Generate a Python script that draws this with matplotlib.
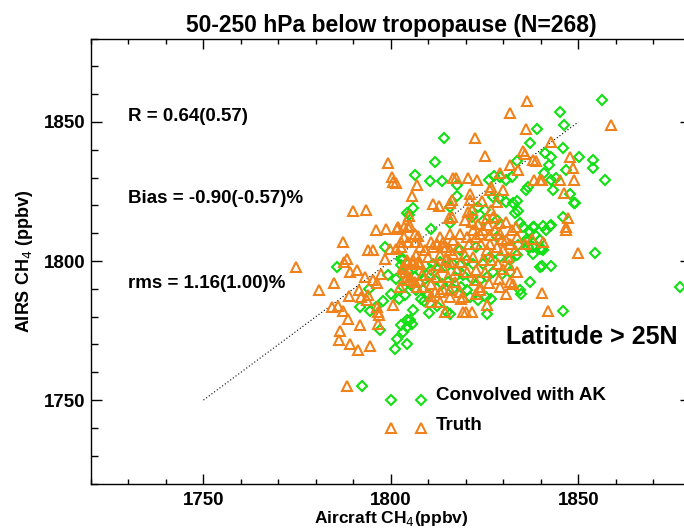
import matplotlib
matplotlib.use("Agg")
import matplotlib.pyplot as plt
from matplotlib.ticker import MultipleLocator

plt.rcParams['font.family'] = ['Liberation Sans', 'DejaVu Sans']

# "Convolved with AK" (green diamonds)
conv_x = [1792.4, 1785.7, 1798.4, 1802.6, 1799.3, 1801.3, 1794.2, 1791.7, 1794.4, 1796.0,
          1798.0, 1799.9, 1802.2, 1803.7, 1797.2, 1802.8, 1804.2, 1801.5, 1801.1, 1804.2,
          1804.2,
          1814.1, 1839.0, 1837.2, 1811.7, 1806.4, 1810.4, 1813.5, 1817.7, 1826.2, 1827.5,
          1829.1, 1830.8, 1832.2, 1833.5, 1836.0, 1836.6, 1827.3, 1828.9, 1830.7, 1832.6,
          1833.5, 1834.0, 1833.1, 1817.7, 1815.7, 1823.3, 1825.1, 1806.0, 1804.9, 1810.8,
          1821.5, 1824.6, 1828.2, 1834.4, 1835.1, 1838.0, 1838.4, 1839.7, 1836.2, 1834.0,
          1836.6, 1838.0, 1840.6, 1833.5, 1831.7, 1829.1, 1826.4, 1824.6, 1822.0, 1820.2,
          1818.4, 1816.6, 1814.8, 1813.1, 1811.3, 1810.8, 1809.1, 1807.7, 1806.4, 1804.6,
          1803.3, 1802.8, 1803.3, 1805.1, 1806.8, 1808.6, 1810.0, 1811.7, 1813.5, 1815.3,
          1817.1, 1819.3, 1821.5, 1823.7, 1825.5, 1827.3, 1829.5, 1831.7, 1816.6, 1818.8,
          1820.2, 1821.1, 1823.3, 1825.3, 1826.8, 1834.4, 1837.1, 1839.7, 1807.9, 1808.8,
          1810.2, 1812.2, 1815.0, 1815.7, 1825.5, 1806.0, 1805.1, 1804.4, 1803.3, 1805.5,
          1834.6, 1818.4, 1822.8, 1828.2, 1815.7,
          1856.2, 1845.1, 1846.1, 1845.9, 1850.2, 1853.9, 1853.9, 1841.1, 1842.6, 1842.2,
          1846.7, 1840.8, 1842.6, 1844.0, 1857.1, 1843.3, 1847.9, 1849.1, 1845.8, 1840.6,
          1842.4, 1841.3, 1840.4, 1854.4, 1840.2, 1842.6, 1845.8, 1877.1, 1848.8, 1842.6,
          1838.1, 1837.2, 1836.3, 1837.9, 1839.9]
conv_y = [1755.0, 1797.7, 1804.9, 1800.6, 1794.9, 1793.4, 1790.1, 1783.5, 1782.1, 1783.5,
          1785.7, 1788.3, 1786.2, 1787.7, 1775.1, 1776.9, 1778.7, 1771.8, 1768.2, 1770.3,
          1817.1,
          1844.4, 1847.3, 1842.5, 1835.7, 1830.9, 1828.9, 1828.9, 1827.3, 1829.3, 1830.5,
          1830.1, 1829.1, 1830.1, 1836.0, 1825.7, 1826.5, 1822.9, 1822.5, 1821.3, 1820.9,
          1821.7, 1818.1, 1817.1, 1823.3, 1819.3, 1819.5, 1818.3, 1818.9, 1816.5, 1811.7,
          1815.7, 1814.5, 1814.7, 1813.8, 1812.3, 1812.3, 1809.3, 1807.5, 1808.1, 1805.7,
          1805.1, 1802.7, 1803.9, 1802.1, 1800.3, 1801.5, 1801.5, 1799.1, 1799.1, 1800.3,
          1798.5, 1799.1, 1797.9, 1799.7, 1799.1, 1796.7, 1793.7, 1796.1, 1794.3, 1796.1,
          1800.9, 1798.5, 1790.7, 1791.9, 1789.5, 1789.5, 1788.3, 1793.1, 1791.9, 1792.5,
          1794.3, 1794.9, 1793.7, 1793.1, 1794.3, 1796.1, 1795.5, 1796.1, 1789.8, 1790.7,
          1789.5, 1787.1, 1785.9, 1786.9, 1786.5, 1789.5, 1792.5, 1797.9, 1786.2, 1785.7,
          1781.4, 1783.8, 1781.7, 1780.9, 1781.1, 1782.3, 1778.7, 1776.3, 1774.5, 1777.5,
          1788.1, 1803.9, 1805.1, 1808.7, 1813.5,
          1857.9, 1853.7, 1848.9, 1840.5, 1837.5, 1836.5, 1833.3, 1838.9, 1837.5, 1834.5,
          1832.9, 1831.5, 1829.3, 1829.7, 1829.3, 1825.7, 1824.1, 1820.9, 1815.7, 1812.6,
          1812.6, 1811.1, 1804.2, 1803.0, 1798.2, 1798.2, 1782.1, 1790.5, 1820.9, 1812.9,
          1812.3, 1810.5, 1806.9, 1805.1, 1804.5]

# "Truth" (orange triangles)
truth_x = [1799.3, 1800.2, 1800.6, 1801.3, 1789.8, 1793.3, 1796.0, 1798.7, 1802.0, 1803.5,
           1787.1, 1793.8, 1795.3, 1799.7, 1801.3, 1788.4, 1787.5, 1798.4, 1789.1, 1791.0,
           1793.1, 1795.3, 1796.4, 1797.3, 1774.6, 1780.8, 1784.8, 1788.9, 1791.6, 1791.9,
           1794.0, 1793.5, 1784.2, 1786.0, 1787.1, 1796.4, 1796.6, 1796.9, 1800.6, 1788.6,
           1796.6, 1791.7, 1786.4, 1786.2, 1789.2, 1791.3, 1794.4, 1788.4,
           1801.5, 1804.6, 1806.4, 1806.4, 1815.7, 1810.8, 1812.2, 1813.9, 1815.7, 1804.2,
           1806.0, 1807.3, 1803.3, 1804.2, 1805.1, 1806.9, 1810.8, 1815.7, 1819.3,
           1836.4, 1831.7, 1836.0, 1822.4, 1825.1, 1835.1, 1835.7, 1831.7, 1834.0, 1838.0,
           1838.7, 1816.6, 1817.3, 1820.6, 1823.0, 1829.1, 1826.8, 1826.4, 1829.8, 1838.1,
           1839.7, 1807.0, 1805.5, 1816.2, 1821.2, 1821.1, 1811.1, 1812.9, 1824.2, 1828.2,
           1821.5, 1820.6, 1826.6, 1816.4, 1815.6, 1804.9, 1805.2, 1803.5, 1807.3,
           1819.7, 1821.5, 1823.3, 1825.5, 1827.3, 1829.1, 1830.8, 1833.3, 1824.6, 1822.7,
           1826.4, 1829.1, 1830.7, 1831.7, 1833.7, 1820.9, 1823.9, 1818.4, 1816.6, 1814.8,
           1813.1, 1811.3, 1810.0, 1813.2, 1814.8, 1816.6, 1819.7, 1822.0, 1825.5, 1828.2,
           1830.0, 1831.3, 1812.2, 1814.0, 1815.7, 1817.5, 1807.7, 1806.0, 1804.2, 1803.7,
           1805.1, 1806.4, 1808.6, 1810.8, 1812.2, 1815.3, 1820.2, 1822.8, 1824.6, 1828.6,
           1831.6, 1833.5, 1835.7, 1837.5, 1822.4, 1823.7, 1826.2, 1828.9, 1831.7, 1811.7,
           1814.0, 1818.4, 1819.3, 1822.8, 1810.8, 1813.2, 1818.8, 1820.0, 1821.5, 1814.4,
           1825.7,
           1802.8, 1804.6, 1807.7, 1809.1, 1806.8, 1814.0, 1815.7, 1818.0, 1820.2, 1822.0,
           1823.7, 1826.0, 1827.7, 1829.5, 1832.2, 1833.1, 1826.4, 1825.1, 1826.8, 1830.0,
           1818.8, 1817.1, 1810.4, 1808.2, 1813.1, 1815.7, 1823.7, 1829.1, 1830.8, 1832.6,
           1802.8, 1803.3, 1802.4, 1803.7,
           1858.8, 1842.8, 1847.7, 1848.6, 1840.2, 1845.2, 1848.8, 1846.1, 1847.3, 1846.8,
           1846.8, 1840.6, 1850.0, 1840.4, 1842.0]
truth_y = [1835.3, 1830.3, 1828.5, 1828.1, 1818.1, 1818.5, 1811.1, 1811.4, 1812.3, 1808.7,
           1806.9, 1803.9, 1803.9, 1804.2, 1804.2, 1800.9, 1799.7, 1800.6, 1796.1, 1796.9,
           1794.3, 1793.1, 1792.2, 1795.5, 1797.7, 1789.5, 1792.2, 1787.4, 1789.5, 1787.1,
           1787.7, 1785.9, 1783.3, 1783.8, 1782.1, 1783.5, 1781.7, 1780.5, 1784.1, 1779.0,
           1777.3, 1776.9, 1774.9, 1771.5, 1770.3, 1768.0, 1769.4, 1755.0,
           1811.7, 1812.3, 1806.9, 1809.7, 1820.8, 1806.9, 1806.3, 1805.1, 1803.9, 1800.3,
           1800.3, 1799.7, 1797.3, 1794.3, 1793.1, 1790.7, 1787.5, 1789.5, 1781.7,
           1857.6, 1853.3, 1847.3, 1844.4, 1837.7, 1839.7, 1838.5, 1834.5, 1832.9, 1836.5,
           1836.0, 1830.0, 1830.0, 1829.7, 1829.1, 1831.7, 1826.5, 1825.7, 1825.5, 1829.3,
           1829.1, 1827.3, 1823.3, 1821.9, 1824.1, 1822.1, 1820.5, 1819.7, 1821.7, 1821.3,
           1818.5, 1817.7, 1818.3, 1815.9, 1815.3, 1816.1, 1812.6, 1812.1, 1809.0,
           1814.7, 1814.1, 1813.3, 1815.3, 1815.9, 1813.8, 1814.1, 1812.3, 1811.1, 1808.7,
           1809.3, 1809.9, 1807.5, 1806.3, 1808.7, 1806.1, 1806.3, 1809.9, 1807.5, 1805.1,
           1808.7, 1805.1, 1801.5, 1802.1, 1800.3, 1802.5, 1802.1, 1801.5, 1803.9, 1805.1,
           1803.9, 1801.5, 1798.5, 1797.9, 1799.7, 1796.7, 1799.1, 1799.1, 1799.7, 1796.1,
           1794.3, 1792.5, 1790.7, 1791.9, 1794.3, 1794.3, 1796.1, 1796.7, 1800.3, 1799.1,
           1798.5, 1796.1, 1806.3, 1808.1, 1793.1, 1790.7, 1792.2, 1793.7, 1792.5, 1788.9,
           1789.8, 1788.9, 1787.1, 1788.3, 1785.3, 1785.3, 1786.5, 1781.7, 1781.7, 1781.7,
           1784.1,
           1805.1, 1806.9, 1805.1, 1803.9, 1802.1, 1806.9, 1809.9, 1805.1, 1808.7, 1811.1,
           1809.9, 1812.9, 1811.1, 1808.1, 1811.1, 1803.9, 1806.3, 1796.1, 1800.3, 1797.3,
           1799.7, 1792.5, 1795.5, 1794.9, 1788.9, 1787.1, 1789.5, 1790.7, 1788.3, 1791.9,
           1806.9, 1797.9, 1790.7, 1793.1,
           1848.9, 1842.9, 1837.5, 1833.3, 1829.3, 1829.3, 1829.1, 1824.3, 1815.3, 1812.3,
           1811.1, 1806.9, 1803.0, 1788.6, 1782.1]

# legend symbols drawn inside the plot, like the original
legend_x = [1800, 1808]
legend_conv_y = 1750
legend_truth_y = 1740

one_to_one = [1750, 1850]

GREEN = '#12E012'
ORANGE = '#F0821C'
DIAMOND = dict(linestyle='none', marker='D', markersize=4.8, markerfacecolor='none',
               markeredgecolor=GREEN, markeredgewidth=1.5)
TRIANGLE = dict(linestyle='none', marker='^', markersize=6.5, markerfacecolor='none',
                markeredgecolor=ORANGE, markeredgewidth=1.5)

fig = plt.figure(figsize=(6.84, 5.31), dpi=100)
ax = fig.add_axes([0.133, 0.0894, 0.877, 0.838])

ax.plot(one_to_one, one_to_one, color='black', linestyle=(0, (1, 2)), linewidth=0.8)

ax.plot(conv_x, conv_y, **DIAMOND)
ax.plot(truth_x, truth_y, **TRIANGLE)

ax.plot(legend_x, [legend_conv_y] * 2, **DIAMOND)
ax.plot(legend_x, [legend_truth_y] * 2, **TRIANGLE)
ax.text(1812, legend_conv_y + 1.5, 'Convolved with AK', fontsize=13.5,
        fontweight='bold', va='center', ha='left')
ax.text(1812, legend_truth_y + 0.8, 'Truth', fontsize=13.5,
        fontweight='bold', va='center', ha='left')

# statistiky
ax.text(1730, 1852, 'R = 0.64(0.57)', fontsize=13.5, fontweight='bold', va='center')
ax.text(1730, 1822.6, 'Bias = -0.90(-0.57)%', fontsize=13.5, fontweight='bold', va='center')
ax.text(1730, 1792, 'rms = 1.16(1.00)%', fontsize=13.5, fontweight='bold', va='center')
ax.text(1830.6, 1772.7, 'Latitude > 25N', fontsize=18, fontweight='bold', va='center')

ax.set_xlim(1720, 1880)
ax.set_ylim(1720, 1880)
ax.xaxis.set_major_locator(MultipleLocator(50))
ax.xaxis.set_minor_locator(MultipleLocator(10))
ax.yaxis.set_major_locator(MultipleLocator(50))
ax.yaxis.set_minor_locator(MultipleLocator(10))
ax.tick_params(axis='both', which='both', direction='in', top=True, right=True,
               width=1, color='black')
ax.tick_params(axis='x', which='major', length=7, pad=6, labelsize=13.5)
ax.tick_params(axis='x', which='minor', length=3.6)
ax.tick_params(axis='y', which='major', length=8, pad=4, labelsize=13.5)
ax.tick_params(axis='y', which='minor', length=5)
for lab in ax.get_xticklabels() + ax.get_yticklabels():
    lab.set_fontweight('bold')
for sp in ax.spines.values():
    sp.set_linewidth(1)

ax.set_title('50-250 hPa below tropopause (N=268)', fontsize=16.5, fontweight='bold', pad=5)
ax.set_xlabel('Aircraft CH$_4$(ppbv)', fontsize=12.5, fontweight='bold', labelpad=0)
ax.set_ylabel('AIRS CH$_4$ (ppbv)', fontsize=13, fontweight='bold', labelpad=6)

fig.savefig('out.png', dpi=100)
